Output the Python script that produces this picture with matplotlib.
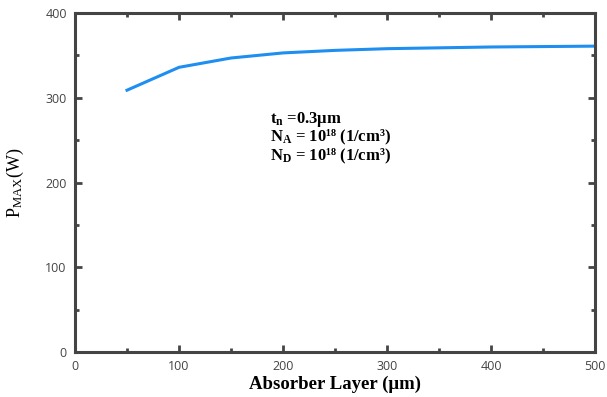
import numpy as np
import matplotlib.pyplot as plt

# Maximum power versus absorber layer thickness
THICKNESS_UM = [50, 100, 150, 200, 250, 300, 350, 400, 450, 500]
P_MAX_W = [309, 336, 347, 353, 356, 358, 359, 360, 360.5, 361]

X_TICKS = [0, 100, 200, 300, 400, 500]
Y_TICKS = [0, 100, 200, 300, 400]

INFO_LINES = [
    r"$\mathbf{t_n}$ =0.3μm",
    r"$\mathbf{N_A}$ = 10¹⁸ (1/cm³)",
    r"$\mathbf{N_D}$ = 10¹⁸ (1/cm³)",
]

AXIS_GREY = "#444444"
LINE_BLUE = "#1f8ef1"


def main():
    plt.rcParams["mathtext.fontset"] = "custom"
    plt.rcParams["mathtext.rm"] = "Liberation Serif"
    plt.rcParams["mathtext.bf"] = "Liberation Serif:bold"
    plt.rcParams["mathtext.it"] = "Liberation Serif:italic"

    fig = plt.figure(figsize=(6.07, 3.97), dpi=100)
    ax = fig.add_axes([0.1236, 0.1134, 0.8566, 0.8536])

    ax.plot(THICKNESS_UM, P_MAX_W, color=LINE_BLUE, lw=2.2)

    ax.set_xlim(0, 500)
    ax.set_ylim(0, 400)
    ax.set_xticks(X_TICKS)
    ax.set_yticks(Y_TICKS)
    ax.set_xticks(np.arange(50, 500, 100), minor=True)
    ax.set_yticks(np.arange(50, 400, 100), minor=True)

    for spine in ax.spines.values():
        spine.set_color(AXIS_GREY)
        spine.set_linewidth(2.2)

    ax.tick_params(which="both", direction="in", top=True, right=True,
                   color=AXIS_GREY, width=2)
    ax.tick_params(which="major", length=5, labelsize=9, labelcolor=AXIS_GREY, pad=6)
    ax.tick_params(which="minor", length=3)
    for lbl in ax.get_xticklabels() + ax.get_yticklabels():
        lbl.set_family("Open Sans")

    ax.set_xlabel("Absorber Layer (μm)", family="Liberation Serif",
                  fontweight="bold", fontsize=13.5, labelpad=2)
    ax.set_ylabel(r"P$_{\mathrm{MAX}}$(W)", family="Liberation Serif",
                  fontsize=13, labelpad=14)

    # parameter block, one line per text so the spacing stays tight
    for line, y in zip(INFO_LINES, [0.675, 0.62, 0.565]):
        ax.text(0.375, y, line, transform=ax.transAxes, family="Liberation Serif",
                fontweight="bold", fontsize=12, va="baseline", ha="left")

    fig.savefig("out.png", dpi=100)


if __name__ == "__main__":
    main()
